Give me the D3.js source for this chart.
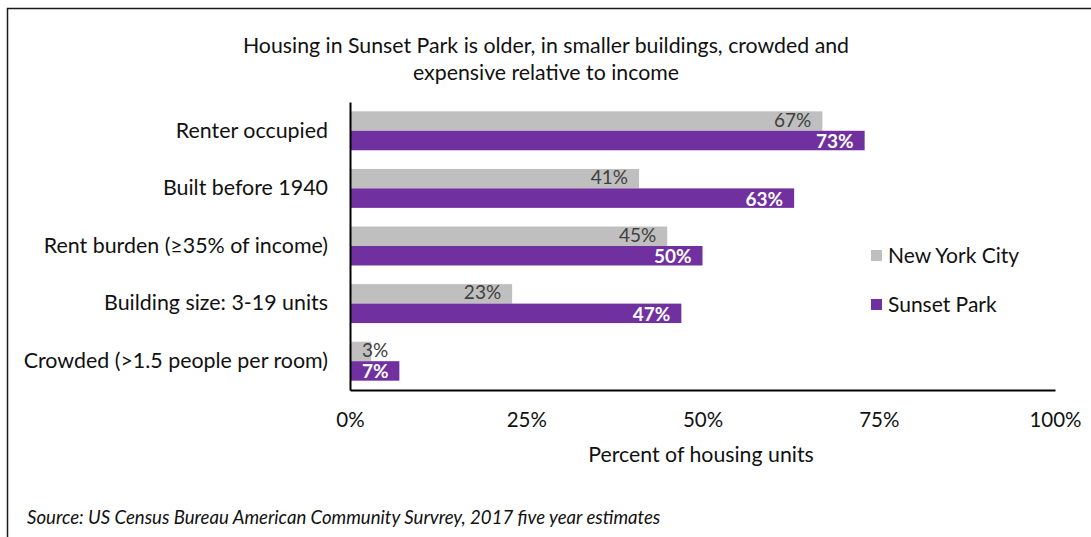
<!DOCTYPE html>
<html>
<head>
<meta charset="utf-8">
<script src="https://cdn.jsdelivr.net/npm/d3@7"></script>
<style>
  html, body { margin: 0; padding: 0; background: #fff; }
  svg { display: block; }
  text { font-family: Lato, "Open Sans", sans-serif; }
</style>
</head>
<body>
<div id="chart"></div>
<script>
// Housing characteristics, Sunset Park vs. New York City (share of housing units, %)
const categories = [
  "Renter occupied",
  "Built before 1940",
  "Rent burden (\u226535% of income)",
  "Building size: 3-19 units",
  "Crowded (>1.5 people per room)"
];
const seriesNames = ["New York City", "Sunset Park"];
const nycValues = [67, 41, 45, 23, 3];
const sunsetParkValues = [73, 63, 50, 47, 7];
const xTicks = [0, 25, 50, 75, 100];

const W = 1091, H = 537;
const colors = { "New York City": "#BFBFBF", "Sunset Park": "#7030A0" };

const svg = d3.select("#chart").append("svg")
  .attr("width", W).attr("height", H);

// frame around the chart area
svg.append("rect")
  .attr("x", 7.5).attr("y", 8.5)
  .attr("width", W + 20).attr("height", H + 20)
  .attr("fill", "none").attr("stroke", "#1a1a1a").attr("stroke-width", 1.5);

const plot = { left: 350, right: 1055, top: 102, bottom: 390 };

const x = d3.scaleLinear().domain([0, 100]).range([plot.left, plot.right]);
const y = d3.scaleBand().domain(categories).range([plot.top, plot.bottom]);
// the two bars of a category sit together in the middle of its band
const gap = y.bandwidth() * 0.162;
const inner = d3.scaleBand().domain(seriesNames)
  .range([gap, y.bandwidth() - gap]);

const rows = categories.map((c, i) => ({
  category: c,
  values: [
    { series: "New York City", value: nycValues[i] },
    { series: "Sunset Park", value: sunsetParkValues[i] }
  ]
}));

// title
const title = svg.append("text")
  .attr("text-anchor", "middle")
  .attr("font-size", 21.3).attr("fill", "#111");
title.append("tspan").attr("x", 546).attr("y", 52.5)
  .text("Housing in Sunset Park is older, in smaller buildings, crowded and");
title.append("tspan").attr("x", 546).attr("y", 79.5)
  .text("expensive relative to income");

// bars
const groups = svg.append("g").selectAll("g.row")
  .data(rows).join("g").attr("class", "row")
  .attr("transform", d => `translate(0,${y(d.category)})`);

groups.selectAll("rect")
  .data(d => d.values).join("rect")
  .attr("x", x(0))
  .attr("y", d => inner(d.series))
  .attr("width", d => x(d.value) - x(0))
  .attr("height", inner.bandwidth())
  .attr("fill", d => colors[d.series]);

// value labels at the inside end of each bar; short bars keep the label clear of the axis
groups.selectAll("text.val")
  .data(d => d.values).join("text").attr("class", "val")
  .attr("y", d => inner(d.series) + inner.bandwidth() / 2 + (d.series === "Sunset Park" ? 7.5 : 5.5))
  .attr("text-anchor", "end")
  .attr("font-size", 19)
  .attr("font-weight", d => d.series === "Sunset Park" ? 700 : 400)
  .attr("fill", d => d.series === "Sunset Park" ? "#ffffff" : "#404040")
  .text(d => d.value + "%")
  .attr("x", function (d) {
    const w = this.getComputedTextLength();
    return Math.max(x(d.value) - 11, x(0) + 12 + w);
  });

// y axis (category labels)
const yAxis = svg.append("g")
  .attr("transform", `translate(${plot.left},0)`)
  .call(d3.axisLeft(y).tickSize(0).tickPadding(22));
yAxis.select(".domain").attr("stroke", "#000").attr("stroke-width", 2);
yAxis.selectAll(".tick text")
  .attr("font-size", 21.4).attr("fill", "#111")
  .style("font-family", "Lato, sans-serif");

// x axis
const xAxis = svg.append("g")
  .attr("transform", `translate(0,${plot.bottom})`)
  .call(d3.axisBottom(x).tickValues(xTicks).tickFormat(d => d + "%").tickSize(0).tickPadding(22));
xAxis.select(".domain").attr("stroke", "#000").attr("stroke-width", 2);
xAxis.selectAll(".tick text")
  .attr("font-size", 20.5).attr("fill", "#111")
  .style("font-family", "Lato, sans-serif");

svg.append("text")
  .attr("x", 701).attr("y", 461.5).attr("text-anchor", "middle")
  .attr("font-size", 21.3).attr("fill", "#111")
  .text("Percent of housing units");

// legend
const legend = svg.append("g").selectAll("g")
  .data(seriesNames).join("g")
  .attr("transform", (d, i) => `translate(871,${250 + i * 49})`);
legend.append("rect")
  .attr("width", 11).attr("height", 11)
  .attr("fill", d => colors[d]);
legend.append("text")
  .attr("x", 17).attr("y", 12.5)
  .attr("font-size", 21).attr("fill", "#111")
  .text(d => d);

// source note
svg.append("text")
  .attr("x", 27).attr("y", 523.5)
  .attr("font-size", 18.6).attr("font-style", "italic").attr("fill", "#111")
  .text("Source: US Census Bureau American Community Survrey, 2017 five year estimates");
</script>
</body>
</html>
